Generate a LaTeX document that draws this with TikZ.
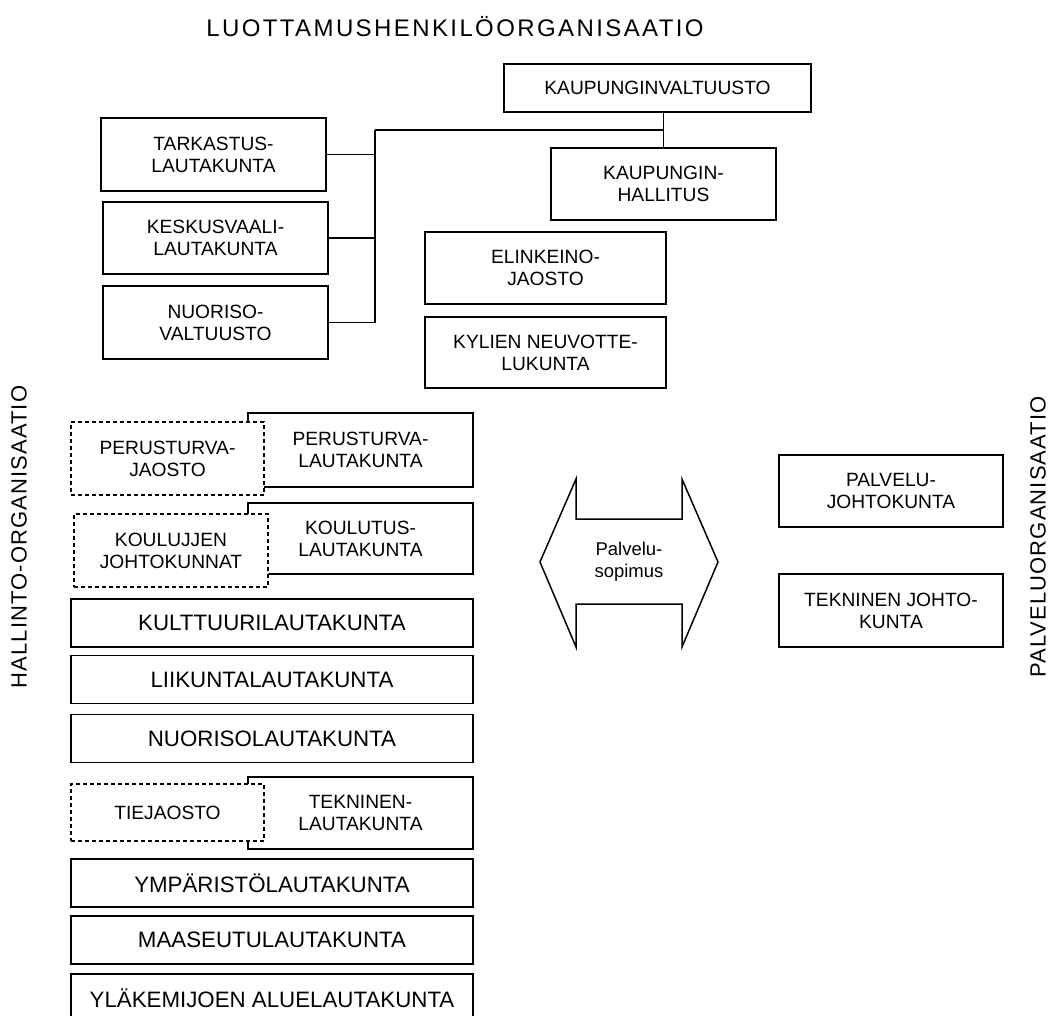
\documentclass[tikz,border=0pt]{standalone}
\usepackage{fontspec}
\setmainfont{Liberation Sans}
\begin{document}
\begin{tikzpicture}[x=1pt,y=-1pt,line width=1.9pt,line join=miter,
	box/.style={draw,fill=white,inner sep=0pt,align=center,font=\fontsize{19.2}{22}\selectfont},
	wbox/.style={box,minimum width=402,minimum height=48,font=\fontsize{22.3}{24}\selectfont},
	dbox/.style={box,dash pattern=on 4pt off 3pt,line width=1.6pt},
	lbl/.style={font=\fontsize{22}{24}\selectfont\addfontfeatures{LetterSpace=5}}]
	\clip (0,0) rectangle (1050,1016);
	\useasboundingbox (0,0) rectangle (1050,1016);
	\node[font=\fontsize{24}{28}\selectfont\addfontfeatures{LetterSpace=10}] (otsikko) at (455,27) {LUOTTAMUSHENKILÖORGANISAATIO};
	\node[lbl,rotate=90] (hallorg) at (19,537) {HALLINTO-ORGANISAATIO};
	\node[lbl,rotate=90] (palvorg) at (1038,537) {PALVELUORGANISAATIO};
	% luottamushenkilot
	\node[box,minimum width=307,minimum height=48] (valt) at (657.5,88) {KAUPUNGINVALTUUSTO};
	\node[box,minimum width=225,minimum height=72] (hall) at (663.5,184) {KAUPUNGIN-\\HALLITUS};
	\node[box,minimum width=225,minimum height=73] (tark) at (213.5,154.5) {TARKASTUS-\\LAUTAKUNTA};
	\node[box,minimum width=225,minimum height=72] (kesk) at (215.5,238) {KESKUSVAALI-\\LAUTAKUNTA};
	\node[box,minimum width=225,minimum height=73] (nuor) at (215.5,322.5) {NUORISO-\\VALTUUSTO};
	\node[box,minimum width=241,minimum height=72] (elin) at (545.5,268) {ELINKEINO-\\JAOSTO};
	\node[box,minimum width=241,minimum height=71] (kyli) at (545.5,352.5) {KYLIEN NEUVOTTE-\\LUKUNTA};
	\coordinate (haara) at (375,130);
	\draw (valt.south -| hall.north) -- (hall.north);
	\draw (haara) -- (haara -| hall.north);
	\draw (haara) -- (haara |- nuor.east) -- (nuor.east);
	\draw (tark.east) -- (tark.east -| haara);
	\draw (kesk.east) -- (kesk.east -| haara);
	% hallinto
	\node[box,minimum width=225,minimum height=74] (peru) at (360.5,450) {PERUSTURVA-\\LAUTAKUNTA};
	\node[dbox,minimum width=193,minimum height=73] (peruj) at (167.5,458.5) {PERUSTURVA-\\JAOSTO};
	\node[box,minimum width=225,minimum height=71] (koul) at (360.5,538.5) {KOULUTUS-\\LAUTAKUNTA};
	\node[dbox,minimum width=194,minimum height=73] (koulj) at (171,550.5) {KOULUJJEN\\JOHTOKUNNAT};
	\node[wbox] (kult) at (272,623) {KULTTUURILAUTAKUNTA};
	\node[wbox] (liik) at (272,679.5) {LIIKUNTALAUTAKUNTA};
	\node[wbox] (nuorl) at (272,738.5) {NUORISOLAUTAKUNTA};
	\node[box,minimum width=225,minimum height=72] (tekn) at (360.5,813) {TEKNINEN-\\LAUTAKUNTA};
	\node[dbox,minimum width=193,minimum height=57] (tiej) at (167.5,812.5) {TIEJAOSTO};
	\node[wbox] (ymp) at (272,883) {YMPÄRISTÖLAUTAKUNTA};
	\node[wbox] (maas) at (272,940) {MAASEUTULAUTAKUNTA};
	\node[wbox] (ylak) at (272,998) {YLÄKEMIJOEN ALUELAUTAKUNTA};
	% palvelut
	\node[box,minimum width=224,minimum height=72] (palv) at (891,491) {PALVELU-\\JOHTOKUNTA};
	\node[box,minimum width=224,minimum height=73] (tekj) at (891,610.5) {TEKNINEN JOHTO-\\KUNTA};
	\node[align=center,font=\fontsize{18.5}{21.7}\selectfont] (sop) at (629,562) {Palvelu-\\sopimus};
	\draw[line width=1.5pt] (540,562) -- (576,479) -- (576,519) -- (682,519) -- (682,479) -- (718,562)
		-- (682,647) -- (682,604) -- (576,604) -- (576,647) -- cycle;
\end{tikzpicture}
\end{document}
